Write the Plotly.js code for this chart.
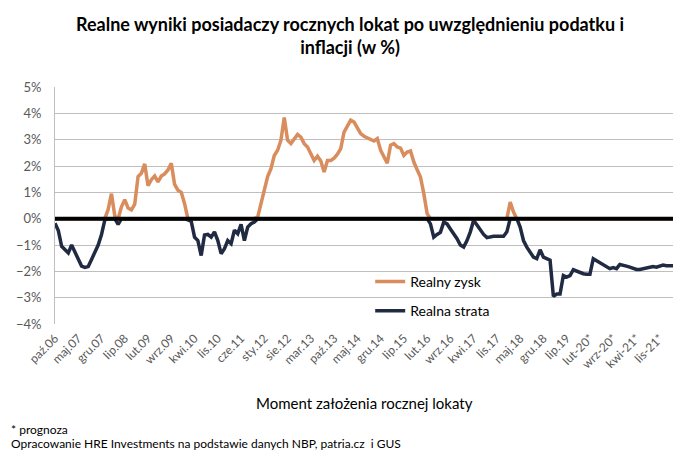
<!DOCTYPE html>
<html>
<head>
<meta charset="utf-8">
<script src="https://cdn.plot.ly/plotly-3.0.1.min.js"></script>
<style>
  html, body { margin: 0; padding: 0; background: #fff; }
  #chart { width: 700px; height: 462px; }
</style>
</head>
<body>
<div id="chart"></div>
<script>
// realny wynik lokaty (%), miesiac po miesiacu od paz.06 do lis.21
var wynik = [
  -0.17, -0.45, -1.05, -1.2, -1.3, -1.0, -1.25, -1.55, -1.8, -1.85,
  -1.82, -1.55, -1.25, -1.0, -0.6, -0.05, 0.35, 0.95, 0.1, -0.22,
  0.45, 0.72, 0.4, 0.33, 0.55, 1.6, 1.72, 2.08, 1.25, 1.48,
  1.62, 1.4, 1.62, 1.7, 1.85, 2.1, 1.3, 1.08, 1.0, 0.57,
  -0.05, -0.1, -0.7, -0.83, -1.4, -0.62, -0.6, -0.7, -0.5, -0.83,
  -1.33, -1.14, -0.83, -0.95, -0.44, -0.57, -0.22, -0.83, -0.32, -0.19,
  -0.13, 0.06, 0.57, 1.2, 1.6, 1.9, 2.4, 2.6, 2.98, 3.84,
  2.98, 2.85, 3.04, 3.2, 3.1, 2.85, 2.72, 2.45, 2.21, 2.37,
  2.19, 1.77, 2.21, 2.21, 2.3, 2.45, 2.66, 3.29, 3.55, 3.74,
  3.67, 3.42, 3.23, 3.13, 3.08, 3.0, 2.95, 3.04, 2.6, 2.35,
  2.11, 2.79, 2.85, 2.72, 2.68, 2.4, 2.53, 2.57, 2.15, 1.86,
  1.58, 0.95, 0.19, -0.2, -0.7, -0.6, -0.52, -0.13, -0.2, -0.39,
  -0.57, -0.76, -1.0, -1.08, -0.83, -0.5, -0.06, -0.25, -0.44, -0.6,
  -0.72, -0.68, -0.67, -0.67, -0.66, -0.67, -0.5, 0.63, 0.25, 0.0,
  -0.32, -0.83, -1.08, -1.3, -1.46, -1.52, -1.18, -1.46, -1.52, -1.58,
  -2.95, -2.86, -2.86, -2.16, -2.22, -2.16, -1.94, -1.99, -2.05, -2.09,
  -2.11, -2.11, -1.52, -1.6, -1.68, -1.75, -1.84, -1.9, -1.86, -1.9,
  -1.74, -1.76, -1.8, -1.84, -1.9, -1.93, -1.93, -1.9, -1.86, -1.86,
  -1.82, -1.84, -1.8, -1.76, -1.79, -1.79, -1.79
];

var etykiety = ['paź.06','maj.07','gru.07','lip.08','lut.09','wrz.09','kwi.10','lis.10',
  'cze.11','sty.12','sie.12','mar.13','paź.13','maj.14','gru.14','lip.15','lut.16',
  'wrz.16','kwi.17','lis.17','maj.18','gru.18','lip.19','lut-20*','wrz-20*','kwi-21*','lis-21*'];
var krok = 7;

var idx = wynik.map(function(v, i){ return i; });
var zysk = wynik.map(function(v){ return Math.max(v, 0); });
var strata = wynik.map(function(v){ return Math.min(v, 0); });
var tickPos = etykiety.map(function(e, i){ return i*krok; });

var F = 'Lato, "Open Sans", sans-serif';

// strata first so that zysk is drawn on top
var data = [{
  type: 'scatter', mode: 'lines', name: 'Realna strata',
  x: idx, y: strata, legendgroup: 'b', legendrank: 2,
  line: {color: '#212A43', width: 3.5}
}, {
  type: 'scatter', mode: 'lines', name: 'Realny zysk',
  x: idx, y: zysk, legendgroup: 'a', legendrank: 1,
  line: {color: '#D98C5C', width: 3.5}
}];

var layout = {
  width: 700, height: 462,
  margin: {l: 55, r: 27, t: 87, b: 138},
  paper_bgcolor: '#fff', plot_bgcolor: '#fff',
  font: {family: F, color: '#595959', size: 13},
  showlegend: true,
  title: {
    text: 'Realne wyniki posiadaczy rocznych lokat po uwzględnieniu podatku i<br>inflacji (w %)',
    font: {family: F, size: 18, color: '#000', weight: 'bold'},
    x: 0.5, xanchor: 'center', y: 0.933, yanchor: 'middle'
  },
  xaxis: {
    range: [0, wynik.length - 1],
    tickmode: 'array', tickvals: tickPos, ticktext: etykiety,
    tickangle: -45, tickfont: {size: 12, color: '#595959'},
    ticklabelstandoff: 4,
    showgrid: false, zeroline: false, showline: false, ticks: ''
  },
  yaxis: {
    range: [-4, 5], dtick: 1, ticksuffix: '%',
    tickfont: {size: 13, color: '#595959'},
    ticklabelstandoff: 10,
    showgrid: true, gridcolor: '#BFBFBF', gridwidth: 1,
    zeroline: false, showline: true, linecolor: '#BFBFBF', ticks: ''
  },
  legend: {
    x: 0.51, y: 0.245, xanchor: 'left', yanchor: 'top',
    traceorder: 'grouped', tracegroupgap: 8,
    font: {family: F, size: 14, color: '#000'},
    bgcolor: 'rgba(0,0,0,0)'
  },
  shapes: [{
    type: 'line', xref: 'paper', x0: 0, x1: 1, yref: 'y', y0: 0, y1: 0,
    line: {color: '#000', width: 4}, layer: 'above'
  }],
  annotations: [{
    text: 'Moment założenia rocznej lokaty', showarrow: false,
    xref: 'paper', yref: 'paper', x: 0.5, y: -0.335, xanchor: 'center', yanchor: 'middle',
    font: {family: F, size: 15, color: '#000'}
  }, {
    text: '* prognoza', showarrow: false,
    xref: 'paper', yref: 'paper', x: -0.075, y: -0.447, xanchor: 'left', yanchor: 'middle',
    font: {family: F, size: 12, color: '#000'}
  }, {
    text: 'Opracowanie HRE Investments na podstawie danych NBP, patria.cz  i GUS', showarrow: false,
    xref: 'paper', yref: 'paper', x: -0.075, y: -0.506, xanchor: 'left', yanchor: 'middle',
    font: {family: F, size: 12, color: '#000'}
  }]
};

Plotly.newPlot('chart', data, layout, {staticPlot: true});
</script>
</body>
</html>
